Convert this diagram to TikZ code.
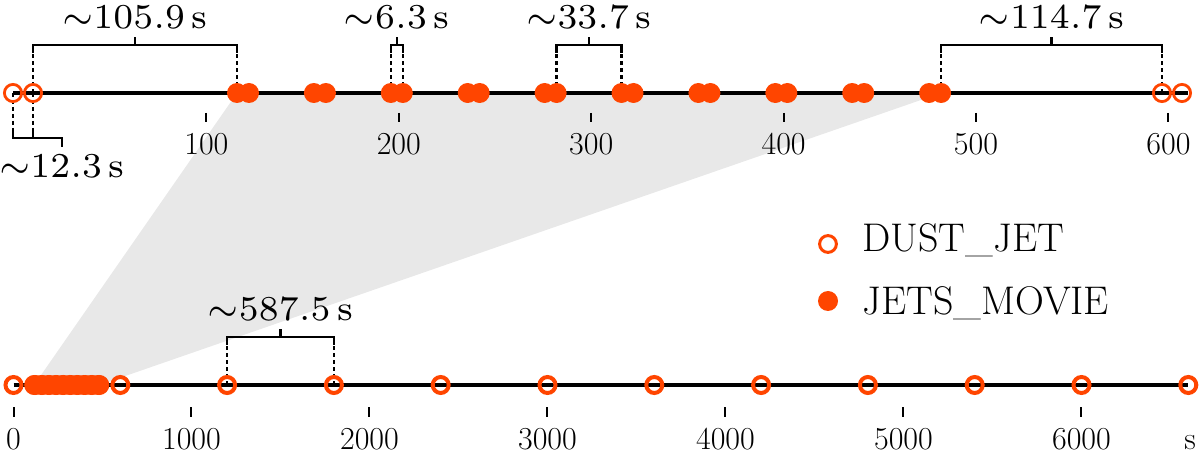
\documentclass[tikz,border=0pt]{standalone}
\usepackage{fontspec}
\usetikzlibrary{calc}
\definecolor{jetc}{HTML}{FF4500}
\definecolor{shadec}{HTML}{E8E8E8}
\pgfdeclarelayer{bg}
\pgfdeclarelayer{mid}
\pgfsetlayers{bg,mid,main}
\tikzset{
  axisl/.style={line width=2pt},
  tickl/.style={line width=1pt},
  brk/.style={line width=1.3pt},
  dashl/.style={line width=1.3pt, dash pattern=on 2pt off 1.5pt},
  dustt/.style={circle, draw=jetc, line width=1.4pt, minimum size=8.6pt, inner sep=0pt},
  dustb/.style={circle, draw=jetc, line width=2pt, minimum size=8pt, inner sep=0pt},
  dustleg/.style={circle, draw=jetc, line width=1.5pt, minimum size=8.4pt, inner sep=0pt},
  jet/.style={circle, fill=jetc, minimum size=10pt, inner sep=0pt},
  ticklab/.style={font=\fontsize{16}{19}\selectfont, inner sep=0pt, anchor=base},
  brklab/.style={font=\fontsize{7}{8}\selectfont, scale=2.5, inner sep=0pt, anchor=base},
  leglab/.style={font=\fontsize{20}{24}\selectfont, inner sep=0pt, anchor=base west},
}
\newcommand\topbrk[4]{%
  \draw[dashl] (#1.center) -- ++(0,-40);
  \draw[dashl] (#2.center) -- ++(0,-40);
  \draw[brk] ($(#1.center)+(0,-40)$) -- ($(#1.center)+(0,-48)$) -| ($(#2.center)+(0,-40)$);
  \draw[brk] ($(#1.center)!.5!(#2.center)+(0,-48)$) -- ++(0,-8);
  \node[brklab] (#3) at ($(#1.center)!.5!(#2.center)+(0,-64)$) {#4};
}
\begin{document}
\begin{tikzpicture}[x=0.5pt,y=-0.5pt]
\useasboundingbox (0,0) rectangle (1200,454);
% top row
\node[dustt] (d1) at (13,93) {};
\node[dustt] (d2) at (33,93) {};
\node[dustt] (d3) at (1162,93) {};
\node[dustt] (d4) at (1182,93) {};
\coordinate (tEnd) at (1188,93);
\foreach \k in {0,...,9} {
  \node[jet] (ja\k) at ({237+76.9*\k},93) {};
  \node[jet] (jb\k) at ({249+76.9*\k},93) {};
}
% bottom row
\foreach \k in {0,...,9} {
  \node[jet] (ba\k) at ({34.15+7.12*\k},385) {};
  \node[jet] (bb\k) at ({35.27+7.12*\k},385) {};
}
\foreach \k in {0,...,11} {
  \node[dustb] (b\k) at ({13.5+106.8*\k},385) {};
}
% legend
\node[dustleg] (lg1) at (828,244) {};
\node[jet] (lg2) at (828,301) {};
\node[leglab] (lt1) at (862,252) {DUST\_JET};
\node[leglab] (lt2) at (862,315) {JETS\_MOVIE};

\begin{pgfonlayer}{bg}
  \fill[shadec] (ja0.center) -- (jb9.center) -- (bb9.center) -- (ba0.center) -- cycle;
\end{pgfonlayer}

\begin{pgfonlayer}{mid}
  \draw[axisl] (d1.center) -- (tEnd);
  \draw[axisl] (b0.center) -- (b11.center);
  \foreach \v in {100,200,...,600} {
    \draw[tickl] ({14+1.924*\v},113) -- ++(0,9);
    \node[ticklab] (tt\v) at ({14+1.924*\v},155) {\v};
  }
  \foreach \v in {0,1000,...,6000} {
    \draw[tickl] ({13.5+0.178*\v},407) -- ++(0,10);
    \node[ticklab] (bt\v) at ({13.5+0.178*\v},450) {\v};
  }
  \node[ticklab] (unit) at (1190,450) {s};

  \topbrk{d2}{ja0}{l1059}{${\sim}105.9\,\mathrm{s}$}
  \topbrk{ja2}{jb2}{l63}{${\sim}6.3\,\mathrm{s}$}
  \topbrk{jb4}{ja5}{l337}{${\sim}33.7\,\mathrm{s}$}
  \topbrk{jb9}{d3}{l1147}{${\sim}114.7\,\mathrm{s}$}
  \topbrk{b2}{b3}{l5875}{${\sim}587.5\,\mathrm{s}$}

  \draw[dashl] (d1.center) -- ++(0,37);
  \draw[dashl] (d2.center) -- ++(0,37);
  \draw[brk] ($(d1.center)+(0,37)$) -- ($(d1.center)+(0,45)$) -- ++(49,0) coordinate (c12) -- ++(0,9);
  \draw[brk] ($(d2.center)+(0,37)$) -- ($(d2.center)+(0,45)$);
  \node[brklab] (l123) at ($(c12)+(0,40)$) {${\sim}12.3\,\mathrm{s}$};
\end{pgfonlayer}
\end{tikzpicture}
\end{document}
